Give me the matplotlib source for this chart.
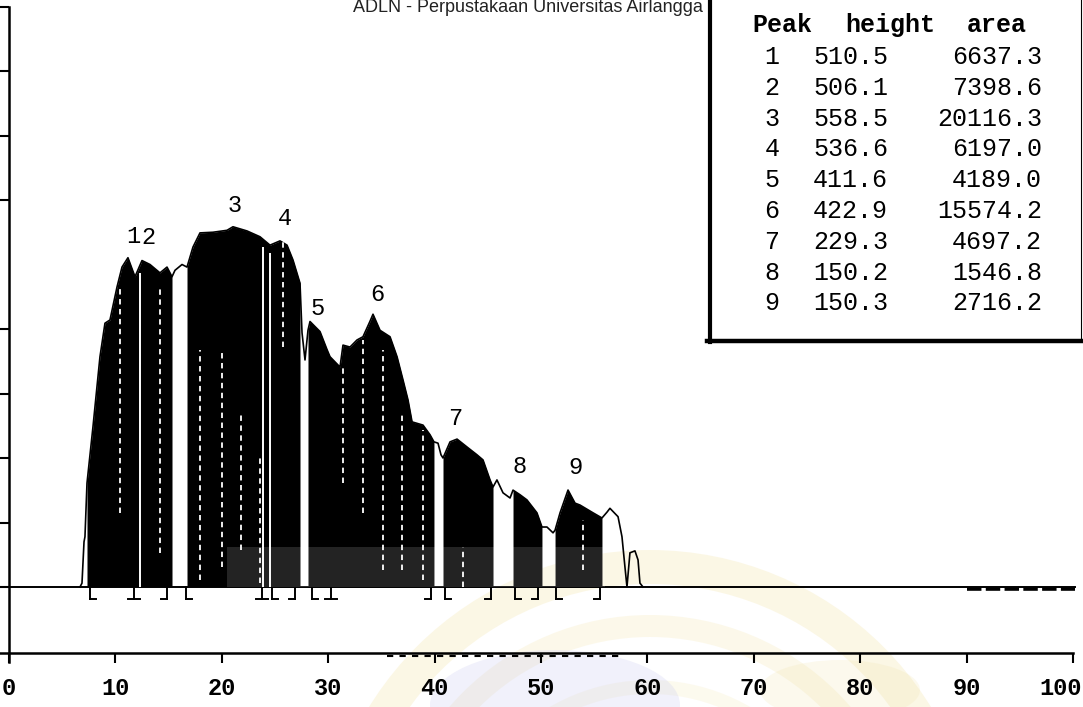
import numpy as np
import matplotlib.pyplot as plt
from matplotlib.patches import Rectangle, Ellipse, Wedge
from matplotlib.transforms import ScaledTranslation

MONO = "Liberation Mono"

# detector trace (minutes, signal) read at its turning points
time_min = [6.67, 6.86, 7.05, 7.14, 7.33, 7.89, 8.55, 9.02, 9.49, 10.15,
            10.62, 11.18, 11.84, 12.50, 13.25, 14.19, 14.85, 15.32, 15.60, 16.26,
            16.73, 17.29, 17.95, 19.17, 20.49, 21.05, 22.37, 23.59, 24.53, 25.47,
            26.13, 26.69, 27.35, 27.54, 27.82, 28.10, 28.29, 29.23, 29.89, 30.17,
            31.11, 31.39, 32.05, 32.71, 33.27, 33.93, 34.21, 34.87, 35.81, 36.47,
            37.03, 37.50, 37.88, 38.91, 39.57, 39.94, 40.32, 40.60, 40.79, 41.45,
            42.11, 43.05, 43.98, 44.55, 45.21, 45.49, 45.86, 46.43, 47.09, 47.37,
            48.03, 48.68, 49.62, 50.09, 50.56, 51.13, 51.32, 51.79, 52.54, 53.20,
            53.67, 54.89, 55.73, 56.20, 56.48, 57.24, 57.61, 57.89, 58.08, 58.36,
            58.83, 59.12, 59.30, 59.59]
signal = [0, 6, 70, 78, 161, 248, 357, 409, 414, 465,
          496, 510.5, 481, 506.1, 500, 487, 496, 481, 491, 500,
          496, 527, 549, 550, 553, 558.5, 552, 543, 530, 536.6,
          530, 507, 471, 394, 352, 398, 411.6, 396, 368, 357,
          341, 375, 372, 383, 388, 412, 422.9, 398, 388, 357,
          321, 290, 256, 251, 236, 225, 223, 205, 200, 225,
          229.3, 217, 205, 197, 166, 155, 166, 146, 138, 150.2,
          143, 135, 115, 93, 93, 84, 88, 115, 150.3, 130,
          127, 115, 107, 116, 122, 109, 78, 31, 0, 53,
          56, 42, 6, 0]

# peak report
peak_no = [1, 2, 3, 4, 5, 6, 7, 8, 9]
peak_time = [11.18, 12.50, 21.05, 25.47, 28.29, 34.21, 42.11, 47.37, 52.54]
peak_height = [510.5, 506.1, 558.5, 536.6, 411.6, 422.9, 229.3, 150.2, 150.3]
peak_area = [6637.3, 7398.6, 20116.3, 6197.0, 4189.0, 15574.2, 4697.2, 1546.8, 2716.2]

# integration windows that get shaded
win_start = [7.33, 16.73, 28.10, 40.79, 47.37, 51.32]
win_end = [15.32, 27.35, 39.94, 45.49, 50.09, 55.73]

# baseline event marks
mark_x = [7.61, 11.75, 14.85, 16.64, 23.78, 24.72, 26.88, 28.48, 30.26,
          39.66, 40.98, 45.30, 47.56, 49.72, 51.41, 55.55]
mark_kind = ["[", "I", "]", "[", "I", "[", "]", "[", "I",
             "]", "[", "]", "[", "]", "[", "]"]

x_ticks = [0, 10, 20, 30, 40, 50, 60, 70, 80, 90, 100]
y_ticks = [0, 100, 200, 300, 400, 600, 700, 800, 900]

t = np.array(time_min)
s = np.array(signal)

W, H = 1083, 707
X0, PX = 9, 10.64      # pixel of t=0, pixels per minute
Y0, PY = 587, 0.645    # pixel of baseline, pixels per unit
YB = 653               # pixel row of the time axis

fig = plt.figure(figsize=(W / 100, H / 100), dpi=100)
fig.patch.set_facecolor("white")

# faint library stamp behind the plot
bg = fig.add_axes([0, 0, 1, 1], zorder=0)
bg.set_xlim(0, W)
bg.set_ylim(H, 0)
bg.axis("off")
for r, w, a in [(330, 34, 0.22), (265, 22, 0.18), (200, 14, 0.14)]:
    bg.add_patch(Wedge((650, 880), r, 180, 360, width=w, facecolor="#f0dc8c",
                       edgecolor="none", alpha=a))
bg.add_patch(Ellipse((555, 705), 250, 110, facecolor="#c8c8f0", edgecolor="none",
                     alpha=0.25))
bg.add_patch(Ellipse((840, 690), 160, 60, facecolor="#f0e2a8", edgecolor="none",
                     alpha=0.2))

ax = fig.add_axes([X0 / W, (H - YB) / H, (W - X0) / W, YB / H], zorder=1)
ax.set_facecolor("none")
ax.set_xlim(0, (W - X0) / PX)
ybot = (Y0 - YB) / PY
ax.set_ylim(ybot, Y0 / PY)
for sp in ax.spines.values():
    sp.set_visible(False)

# shaded peaks and the trace
for a, b in zip(win_start, win_end):
    m = (t >= a - 1e-6) & (t <= b + 1e-6)
    ax.fill_between(t[m], 0, s[m], color="black", lw=0, zorder=2)
ax.plot(t, s, color="black", lw=1.2, zorder=3)

# drop lines and print texture inside the shading
for x in [12.30, 23.87, 24.53]:
    ax.vlines(x, 0, np.interp(x, t, s) - 12, color="white", lw=1.4, zorder=4)
texture = [(10.43, 115, 465), (14.19, 53, 465), (17.95, 11, 367), (20.02, 31, 367),
           (21.80, 57, 270), (23.59, 6, 202), (25.75, 372, 553), (31.39, 161, 341),
           (33.27, 115, 383), (35.15, 26, 367), (36.94, 26, 270), (38.91, 11, 243),
           (42.67, 0, 62), (53.95, 26, 104)]
for x, lo, hi in texture:
    ax.vlines(x, lo, hi, color="white", lw=1.3, linestyles=(0, (3, 2.5)), zorder=4)

# lighter band over the lower part
ax.add_patch(Rectangle((20.5, 0), 35.5, 62, facecolor="white", alpha=0.14,
                       lw=0, zorder=5))

# baseline
ax.plot([-0.85, 100.2], [0, 0], color="black", lw=1.4, zorder=3, clip_on=False)
ax.plot([90.0, 100.2], [-3, -3], color="black", lw=2.6, ls=(0, (4, 1.2)),
        zorder=3, clip_on=False)

# baseline event marks
for x, k in zip(mark_x, mark_kind):
    ax.plot([x, x], [0, -19], color="black", lw=1.4, zorder=3)
    if k == "[":
        fx = [x, x + 0.55]
    elif k == "]":
        fx = [x - 0.55, x]
    else:
        fx = [x - 0.55, x + 0.55]
    ax.plot(fx, [-19, -19], color="black", lw=1.4, zorder=3)

# peak numbers
offsets = [(5, 10), (6, 12), (2, 10), (5, 11), (8, 2), (4, 8), (-2, 9), (7, 12), (7, 11)]
for n, x, h, off in zip(peak_no, peak_time, peak_height, offsets):
    ax.annotate(str(n), (x, h), xytext=off, textcoords="offset pixels",
                ha="center", va="bottom", fontsize=17, family=MONO, zorder=6)

# axes drawn by hand
ax.plot([0, 0], [ybot - 14, 900], color="black", lw=1.8, clip_on=False, zorder=3)
ax.plot([-0.85, 100], [ybot, ybot], color="black", lw=1.8, clip_on=False, zorder=3)
ax.plot([35.5, 57.4], [ybot - 4, ybot - 4], color="black", lw=1.5,
        ls=(0, (3, 3)), clip_on=False, zorder=3)

ax.set_xticks(x_ticks)
ax.set_xticklabels([str(v) for v in x_ticks], family=MONO, fontweight="bold",
                   fontsize=17)
ax.tick_params(axis="x", direction="out", length=7, width=1.5, pad=10)
last = ax.get_xticklabels()[-1]
last.set_transform(last.get_transform()
                   + ScaledTranslation(-0.12, 0, fig.dpi_scale_trans))
ax.set_yticks(y_ticks)
ax.set_yticklabels([])
ax.tick_params(axis="y", direction="out", length=7, width=1.5)

# peak report box, pixel coordinates
ov = fig.add_axes([0, 0, 1, 1], zorder=2)
ov.set_xlim(0, W)
ov.set_ylim(H, 0)
ov.axis("off")
ov.patch.set_alpha(0)

ov.plot([709.5, 709.5], [0, 342], color="black", lw=3.0)
ov.plot([707, W], [340.5, 340.5], color="black", lw=3.2)
ov.plot([1081, 1081], [0, 340], color="black", lw=0.8)

ov.text(782, 25, "Peak", ha="center", va="center", family=MONO,
        fontweight="bold", fontsize=18)
ov.text(890, 25, "height", ha="center", va="center", family=MONO,
        fontweight="bold", fontsize=18)
ov.text(997, 25, "area", ha="center", va="center", family=MONO,
        fontweight="bold", fontsize=18)
for i, (n, h, a) in enumerate(zip(peak_no, peak_height, peak_area)):
    y = 57 + i * 30.8
    ov.text(772, y, str(n), ha="center", va="center", family=MONO, fontsize=18)
    ov.text(813, y, f"{h:.1f}", ha="left", va="center", family=MONO, fontsize=18)
    ov.text(1042, y, f"{a:.1f}", ha="right", va="center", family=MONO, fontsize=18)

ov.text(353, 12, "ADLN - Perpustakaan Universitas Airlangga", ha="left",
        va="baseline", family="Liberation Sans", fontsize=13, color="#222222")

fig.savefig("out.png", dpi=100)
